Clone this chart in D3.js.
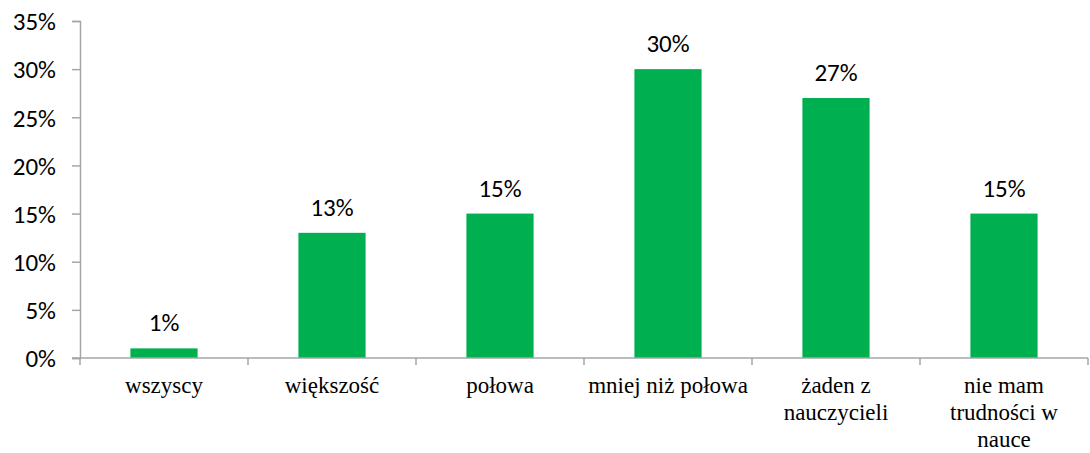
<!DOCTYPE html>
<html>
<head>
    <meta charset="utf-8" />
    <script src="https://cdnjs.cloudflare.com/ajax/libs/d3/7.8.5/d3.min.js"></script>
    <style>
        body { margin: 0; background: #fff; }
        .tickLabel { font-family: Carlito, Calibri, "Open Sans", sans-serif; font-size: 25px; fill: #000; }
        .valLabel { font-family: Carlito, Calibri, "Open Sans", sans-serif; font-size: 25px; fill: #000; }
        .cateName { font-family: "Liberation Serif", "Times New Roman", serif; font-size: 23px; fill: #000; }
    </style>
</head>
<body>
    <script>
        var categories = ["wszyscy", "większość", "połowa", "mniej niż połowa", "żaden z\nnauczycieli", "nie mam\ntrudności w\nnauce"];
        var values = [1, 13, 15, 30, 27, 15];
        var yTicks = [0, 5, 10, 15, 20, 25, 30, 35];

        var svgWidth = 1090,
            svgHeight = 453,
            margin = {top: 21, right: 2, bottom: 95, left: 80},
            width = svgWidth - margin.left - margin.right,
            height = svgHeight - margin.top - margin.bottom;

        var svg = d3.select("body").append("svg")
            .attr("width", svgWidth)
            .attr("height", svgHeight);

        var g = svg.append("g")
            .attr("transform", "translate(" + margin.left + "," + margin.top + ")");

        var x = d3.scaleBand()
            .domain(categories)
            .range([0, width])
            .paddingInner(0)
            .paddingOuter(0);

        var y = d3.scaleLinear()
            .domain([0, 35])
            .range([height, 0]);

        var barWidth = x.bandwidth() * 0.4;

        // bars
        g.selectAll(".bar")
            .data(values)
            .enter().append("rect")
            .attr("class", "bar")
            .attr("x", function(d, i) { return x(categories[i]) + (x.bandwidth() - barWidth) / 2; })
            .attr("y", function(d) { return y(d); })
            .attr("width", barWidth)
            .attr("height", function(d) { return y(0) - y(d); })
            .attr("fill", "#00b050");

        // value labels
        g.selectAll(".valLabel")
            .data(values)
            .enter().append("text")
            .attr("class", "valLabel")
            .attr("x", function(d, i) { return x(categories[i]) + x.bandwidth() / 2; })
            .attr("y", function(d) { return y(d) - 17; })
            .attr("text-anchor", "middle")
            .text(function(d) { return d + "%"; });

        // y axis
        var yAxis = g.append("g")
            .call(d3.axisLeft(y).tickValues(yTicks).tickSize(8).tickPadding(16).tickFormat(function(d) { return d + "%"; }));
        yAxis.attr("font-family", null).attr("font-size", null);
        yAxis.select(".domain").attr("stroke", "#a6a6a6").attr("stroke-width", 1.5);
        yAxis.selectAll(".tick line").attr("stroke", "#a6a6a6").attr("stroke-width", 1.5);
        yAxis.selectAll("text").attr("class", "tickLabel").attr("fill", null).attr("dy", "0.35em");

        // x axis
        var xAxis = g.append("g")
            .attr("transform", "translate(0," + height + ")");
        xAxis.append("line")
            .attr("x1", -8).attr("x2", width)
            .attr("stroke", "#a6a6a6").attr("stroke-width", 1.5);
        var bounds = categories.map(function(c) { return x(c); }).concat([width]);
        xAxis.selectAll(".xtick")
            .data(bounds)
            .enter().append("line")
            .attr("x1", function(d) { return d; })
            .attr("x2", function(d) { return d; })
            .attr("y1", 0).attr("y2", 7)
            .attr("stroke", "#a6a6a6").attr("stroke-width", 1.5);

        xAxis.selectAll(".cateName")
            .data(categories)
            .enter().append("text")
            .attr("class", "cateName")
            .attr("text-anchor", "middle")
            .attr("transform", function(d) { return "translate(" + (x(d) + x.bandwidth() / 2) + ",35)"; })
            .each(function(d) {
                var t = d3.select(this);
                d.split("\n").forEach(function(line, i) {
                    t.append("tspan").attr("x", 0).attr("y", i * 27).text(line);
                });
            });
    </script>
</body>
</html>
